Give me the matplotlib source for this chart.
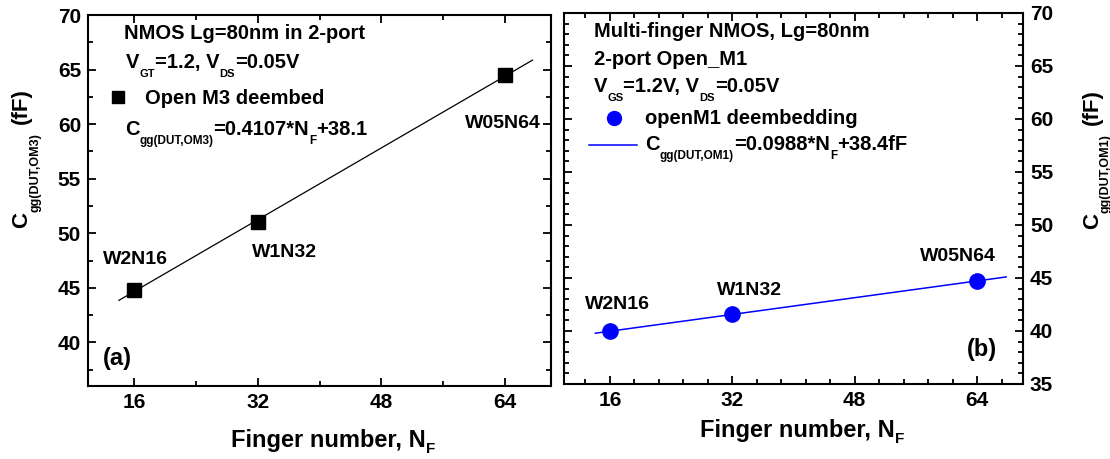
import matplotlib
matplotlib.use("Agg")
import matplotlib.pyplot as plt
from matplotlib.ticker import MultipleLocator
from matplotlib.transforms import offset_copy, IdentityTransform

plt.rcParams['font.family'] = ['Liberation Sans', 'DejaVu Sans']
plt.rcParams['font.weight'] = 'bold'

# ---- measured Cgg vs finger number ----
nf = [16, 32, 64]
dev_names = ['W2N16', 'W1N32', 'W05N64']
cgg_om3 = [44.8, 51.0, 64.5]     # open M3 de-embedded (fF)
cgg_om1 = [40.0, 41.6, 44.75]    # open M1 de-embedded (fF)

# linear fits: slope, intercept, and the NF span the fit line covers
fit_om3 = (0.4107, 38.1)
fit_om1 = (0.0988, 38.4)
span_om3 = [14.0, 67.6]
span_om1 = [14.1, 67.8]

# label anchor points (data coords) for each device
lab_om3 = [(12.0, 47.2), (31.2, 47.8), (58.8, 59.6)]
lab_om1 = [(12.8, 42.1), (30.0, 43.4), (56.5, 46.6)]

BLUE = '#0000ff'

fig = plt.figure(figsize=(11.1, 4.59), dpi=100)
axa = fig.add_axes([0.0793, 0.1590, 0.4171, 0.8083])
axb = fig.add_axes([0.5081, 0.1634, 0.4135, 0.8083])


def style(ax, ylim, xminor, yminor, right=False):
    ax.set_xlim(10, 70)
    ax.set_ylim(*ylim)
    ax.xaxis.set_major_locator(MultipleLocator(16))
    ax.xaxis.set_minor_locator(MultipleLocator(xminor))
    ax.yaxis.set_major_locator(MultipleLocator(5))
    ax.yaxis.set_minor_locator(MultipleLocator(yminor))
    ax.tick_params(which='both', direction='in', top=True, right=True, width=1.3)
    ax.tick_params(which='major', length=6, labelsize=15, pad=5)
    ax.tick_params(which='minor', length=3.5)
    if right:
        ax.tick_params(labelleft=False, labelright=True, pad=5)
    for s in ax.spines.values():
        s.set_linewidth(1.5)


style(axa, (36, 70), 8, 2.5)
style(axb, (35, 70), 3.2, 1, right=True)


def rich(x, y, parts, transform, rotation=0, color='black'):
    """Draw a run of text pieces; each piece is (text, size_pt, drop_px[, gap_px])."""
    r = fig.canvas.get_renderer()
    pos = 0.0
    for part in parts:
        s, fs, drop = part[:3]
        pos += part[3] if len(part) > 3 else 0
        ox, oy = (drop, pos) if rotation == 90 else (pos, -drop)
        t = fig.text(x, y, s, fontsize=fs, fontweight='bold', color=color,
                     rotation=rotation, rotation_mode='anchor',
                     ha='left', va='baseline',
                     transform=offset_copy(transform, fig=fig, x=ox, y=oy, units='dots'))
        bb = t.get_window_extent(r)
        pos += bb.height if rotation == 90 else bb.width


# ---- (a) open M3 ----
axa.plot(span_om3, [fit_om3[0] * x + fit_om3[1] for x in span_om3], color='black', lw=0.9)
axa.plot(nf, cgg_om3, 's', color='black', ms=10)
for (lx, ly), name in zip(lab_om3, dev_names):
    axa.text(lx, ly, name, fontsize=14, fontweight='bold', va='baseline')

axa.text(14.7, 67.8, 'NMOS Lg=80nm in 2-port', fontsize=14.5, va='baseline')
rich(14.9, 65.1, [('V', 14.5, 0), ('GT', 8, 9), ('=1.2, V', 14.5, 0),
                  ('DS', 8, 9), ('=0.05V', 14.5, 0)], axa.transData)
axa.plot([13.9], [62.5], 's', color='black', ms=9)
axa.text(17.35, 61.8, 'Open M3 deembed', fontsize=14.5, va='baseline')
rich(14.8, 59.0, [('C', 14.5, 0), ('gg(DUT,OM3)', 8.5, 9), ('=0.4107*N', 14.5, 0),
                  ('F', 8.5, 9), ('+38.1', 14.5, 0)], axa.transData)
axa.text(11.95, 37.9, '(a)', fontsize=17, va='baseline')

# ---- (b) open M1 ----
axb.plot(span_om1, [fit_om1[0] * x + fit_om1[1] for x in span_om1], color=BLUE, lw=1.1)
axb.plot(nf, cgg_om1, 'o', color=BLUE, ms=11)
for (lx, ly), name in zip(lab_om1, dev_names):
    axb.text(lx, ly, name, fontsize=14, fontweight='bold', va='baseline')

axb.text(13.9, 67.7, 'Multi-finger NMOS, Lg=80nm', fontsize=14.5, va='baseline')
axb.text(13.9, 65.1, '2-port Open_M1', fontsize=14.5, va='baseline')
rich(13.9, 62.5, [('V', 14.5, 0), ('GS', 8, 9), ('=1.2V, V', 14.5, 0),
                  ('DS', 8, 9), ('=0.05V', 14.5, 0)], axb.transData)
axb.plot([16.5], [60.1], 'o', color=BLUE, ms=10)
axb.text(20.65, 59.5, 'openM1 deembedding', fontsize=14.5, va='baseline')
axb.plot([13.3, 19.6], [57.55, 57.55], color=BLUE, lw=1.1)
rich(20.65, 57.1, [('C', 14.5, 0), ('gg(DUT,OM1)', 8.5, 9), ('=0.0988*N', 14.5, 0),
                   ('F', 8.5, 9), ('+38.4fF', 14.5, 0)], axb.transData)
axb.text(62.7, 37.6, '(b)', fontsize=17, va='baseline')

# ---- axis titles ----
px = IdentityTransform()
rich(231, 12, [('Finger number, N', 17, 0), ('F', 11, 6)], px)
rich(700, 22, [('Finger number, N', 17, 0), ('F', 11, 6)], px)
rich(27, 231, [('C', 16, 0), ('gg(DUT,OM3)', 9, 11), ('(fF)', 16, 0, 9)], px, rotation=90)
rich(1098, 230, [('C', 16, 0), ('gg(DUT,OM1)', 9, 11), ('(fF)', 16, 0, 9)], px, rotation=90)

fig.savefig('out.png', dpi=100)
